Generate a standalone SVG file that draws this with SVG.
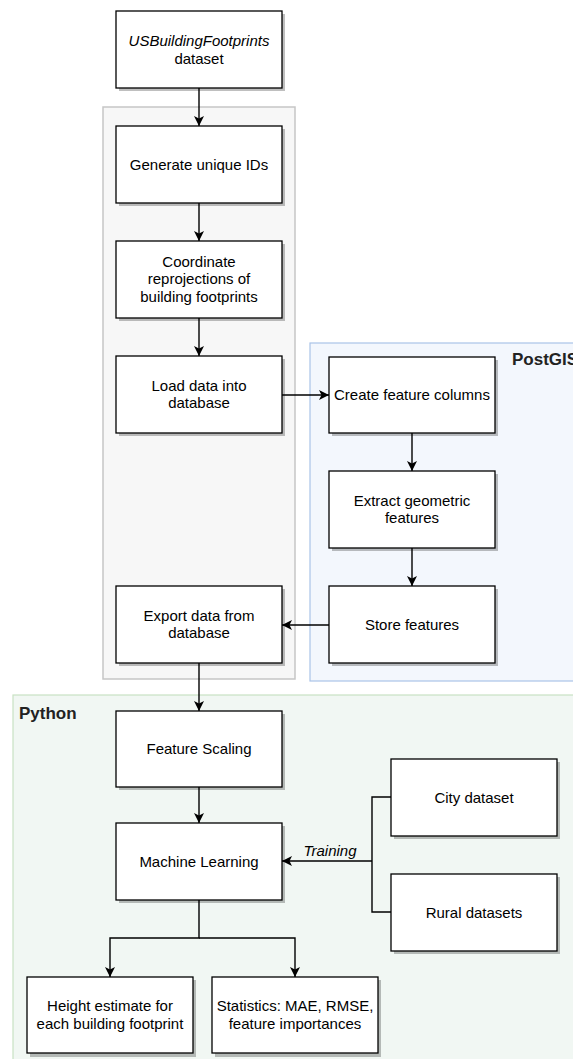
<svg xmlns="http://www.w3.org/2000/svg" width="573" height="1059" viewBox="0 0 573 1059">
<style>
  .box { fill: #ffffff; stroke: #000000; stroke-width: 1.3; }
  .shadow { fill: #000000; opacity: 0.25; }
  .t { font-family: "Liberation Sans", Arial, Helvetica, sans-serif; font-size: 15px; fill: #000000; text-anchor: middle; }
  .it { font-style: italic; }
  .title { font-family: "Liberation Sans", Arial, Helvetica, sans-serif; font-size: 17px; font-weight: bold; fill: #222222; }
  .edge { fill: none; stroke: #000000; stroke-width: 1.4; }
</style>
<defs>
  <marker id="arr" viewBox="0 0 10 10" refX="10" refY="5" markerWidth="10" markerHeight="10" markerUnits="userSpaceOnUse" orient="auto">
    <path d="M0,0 L10,5 L0,10 L2.5,5 Z" fill="#000000"/>
  </marker>
</defs>

<g id="containers">
  <rect id="group-gray" x="103" y="107" width="192" height="572" fill="#f7f7f7" stroke="#c6c6c6" stroke-width="1.5"/>
  <rect id="group-postgis" x="310" y="343" width="270" height="338" fill="#f3f7fd" stroke="#aac3e8" stroke-width="1.2"/>
  <text class="title" x="512" y="365" font-size="14">PostGIS</text>
  <rect id="group-python" x="13" y="695" width="570" height="370" fill="#f1f7f3" stroke="#c9e2c3" stroke-width="1.2"/>
  <text class="title" x="19" y="719">Python</text>
</g>

<g id="n-dataset">
  <rect class="shadow" x="119" y="14" width="166" height="77"/>
  <rect class="box" x="116" y="11" width="166" height="77"/>
  <text class="t it" x="199" y="45.5">USBuildingFootprints</text>
  <text class="t" x="199" y="63.5">dataset</text>
</g>
<g id="n-ids">
  <rect class="shadow" x="119" y="129" width="166" height="77"/>
  <rect class="box" x="116" y="126" width="166" height="77"/>
  <text class="t" x="199" y="170">Generate unique IDs</text>
</g>
<g id="n-reproj">
  <rect class="shadow" x="119" y="244" width="166" height="77"/>
  <rect class="box" x="116" y="241" width="166" height="77"/>
  <text class="t" x="199" y="266.5">Coordinate</text>
  <text class="t" x="199" y="284">reprojections of</text>
  <text class="t" x="199" y="301.5">building footprints</text>
</g>
<g id="n-load">
  <rect class="shadow" x="119" y="359" width="166" height="77"/>
  <rect class="box" x="116" y="356" width="166" height="77"/>
  <text class="t" x="199" y="390.5">Load data into</text>
  <text class="t" x="199" y="408">database</text>
</g>
<g id="n-export">
  <rect class="shadow" x="119" y="589" width="166" height="77"/>
  <rect class="box" x="116" y="586" width="166" height="77"/>
  <text class="t" x="199" y="620.5">Export data from</text>
  <text class="t" x="199" y="638">database</text>
</g>
<g id="n-create">
  <rect class="shadow" x="332" y="360" width="166" height="76"/>
  <rect class="box" x="329" y="357" width="166" height="76"/>
  <text class="t" x="412" y="400">Create feature columns</text>
</g>
<g id="n-extract">
  <rect class="shadow" x="332" y="474" width="166" height="77"/>
  <rect class="box" x="329" y="471" width="166" height="77"/>
  <text class="t" x="412" y="505.5">Extract geometric</text>
  <text class="t" x="412" y="523">features</text>
</g>
<g id="n-store">
  <rect class="shadow" x="332" y="589" width="166" height="77"/>
  <rect class="box" x="329" y="586" width="166" height="77"/>
  <text class="t" x="412" y="630">Store features</text>
</g>
<g id="n-scaling">
  <rect class="shadow" x="119" y="714" width="166" height="76"/>
  <rect class="box" x="116" y="711" width="166" height="76"/>
  <text class="t" x="199" y="754">Feature Scaling</text>
</g>
<g id="n-ml">
  <rect class="shadow" x="119" y="826" width="166" height="77"/>
  <rect class="box" x="116" y="823" width="166" height="77"/>
  <text class="t" x="199" y="867">Machine Learning</text>
</g>
<g id="n-city">
  <rect class="shadow" x="394" y="762" width="166" height="77"/>
  <rect class="box" x="391" y="759" width="166" height="77"/>
  <text class="t" x="474" y="803">City dataset</text>
</g>
<g id="n-rural">
  <rect class="shadow" x="394" y="877" width="166" height="77"/>
  <rect class="box" x="391" y="874" width="166" height="77"/>
  <text class="t" x="474" y="918">Rural datasets</text>
</g>
<g id="n-height">
  <rect class="shadow" x="30" y="980" width="166" height="77"/>
  <rect class="box" x="27" y="977" width="166" height="76"/>
  <text class="t" x="110" y="1011">Height estimate for</text>
  <text class="t" x="110" y="1028.5">each building footprint</text>
</g>
<g id="n-stats">
  <rect class="shadow" x="215" y="980" width="166" height="77"/>
  <rect class="box" x="212" y="977" width="166" height="76"/>
  <text class="t" x="295" y="1011">Statistics: MAE, RMSE,</text>
  <text class="t" x="295" y="1028.5">feature importances</text>
</g>

<g id="connectors">
  <path class="edge" d="M199,88 L199,126" marker-end="url(#arr)"/>
  <path class="edge" d="M199,203 L199,241" marker-end="url(#arr)"/>
  <path class="edge" d="M199,318 L199,356" marker-end="url(#arr)"/>
  <path class="edge" d="M282,395 L329,395" marker-end="url(#arr)"/>
  <path class="edge" d="M412,433 L412,471" marker-end="url(#arr)"/>
  <path class="edge" d="M412,548 L412,586" marker-end="url(#arr)"/>
  <path class="edge" d="M329,625 L282,625" marker-end="url(#arr)"/>
  <path class="edge" d="M199,663 L199,711" marker-end="url(#arr)"/>
  <path class="edge" d="M199,787 L199,823" marker-end="url(#arr)"/>
  <path class="edge" d="M391,797 L372,797 L372,912 L391,912"/>
  <path class="edge" d="M372,861 L282,861" marker-end="url(#arr)"/>
  <text class="t it" x="330" y="856">Training</text>
  <path class="edge" d="M199,900 L199,938 L110,938 L110,977" marker-end="url(#arr)"/>
  <path class="edge" d="M199,938 L295,938 L295,977" marker-end="url(#arr)"/>
</g>
</svg>
